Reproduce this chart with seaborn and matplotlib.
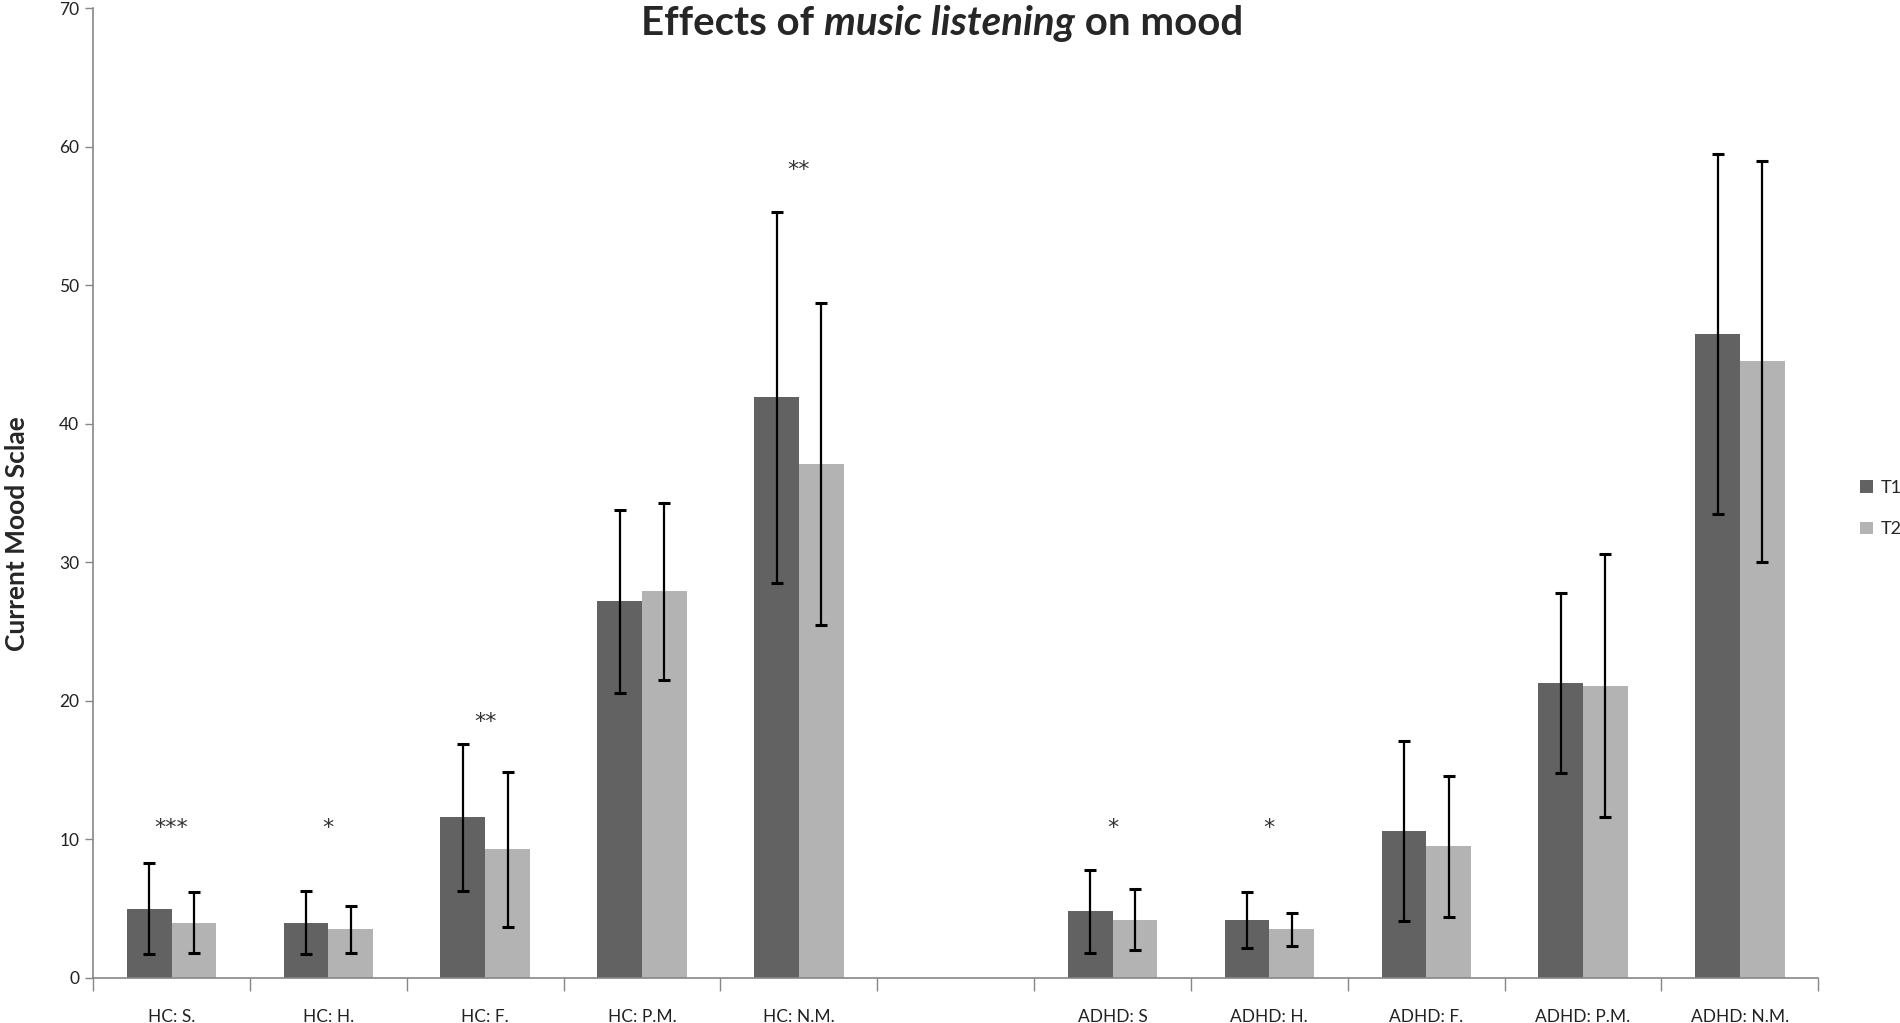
import numpy as np
import pandas as pd
import matplotlib
matplotlib.use("Agg")
import matplotlib.pyplot as plt
import seaborn as sns

# values
categories = ["HC: S.", "HC: H.", "HC: F.", "HC: P.M.", "HC: N.M.", " ",
              "ADHD: S", "ADHD: H.", "ADHD: F.", "ADHD: P.M.", "ADHD: N.M."]
groups = ["HC: S.", "HC: H.", "HC: F.", "HC: P.M.", "HC: N.M.",
          "ADHD: S", "ADHD: H.", "ADHD: F.", "ADHD: P.M.", "ADHD: N.M."]
t1_mean = [5.0, 4.0, 11.6, 27.2, 41.9, 4.8, 4.2, 10.6, 21.3, 46.5]
t2_mean = [4.0, 3.5, 9.3, 27.9, 37.1, 4.2, 3.5, 9.5, 21.1, 44.5]
t1_sd = [3.3, 2.3, 5.3, 6.6, 13.4, 3.0, 2.0, 6.5, 6.5, 13.0]
t2_sd = [2.2, 1.7, 5.6, 6.4, 11.6, 2.2, 1.2, 5.1, 9.5, 14.5]
stars = {"HC: S.": ("***", 10.85), "HC: H.": ("*", 10.85), "HC: F.": ("**", 18.5),
         "HC: N.M.": ("**", 58.3), "ADHD: S": ("*", 10.85), "ADHD: H.": ("*", 10.85)}

df = pd.DataFrame({
    "group": groups * 2,
    "time": ["T1"] * len(groups) + ["T2"] * len(groups),
    "mood": t1_mean + t2_mean,
})
sds = {"T1": t1_sd, "T2": t2_sd}

sns.set_style("white")
plt.rcParams["font.family"] = ["Lato", "DejaVu Sans"]

fig = plt.figure(figsize=(19, 10.23), dpi=100)
ax = fig.add_axes([0.049, 0.044, 0.908, 0.948])

sns.barplot(data=df, x="group", y="mood", hue="time", order=categories,
            palette={"T1": "#626262", "T2": "#b3b3b3"}, width=0.57,
            errorbar=None, saturation=1, linewidth=0, ax=ax)

for cont, lvl in zip(ax.containers, ["T1", "T2"]):
    xs = [b.get_x() + b.get_width() / 2 for b in cont]
    ys = [b.get_height() for b in cont]
    ax.errorbar(xs, ys, yerr=sds[lvl], fmt="none", ecolor="black",
                elinewidth=1.6, capsize=4.3, capthick=2.2)

for g, (s, y) in stars.items():
    ax.text(categories.index(g), y, s, ha="center", va="center",
            fontsize=16, color="#333333", family="DejaVu Sans")

ax.set_ylim(0, 70)
ax.set_xlim(-0.5, len(categories) - 0.5)
ax.set_yticks(range(0, 71, 10))
ax.set_xticks(range(len(categories)))
ax.set_xticklabels(categories)
ax.set_xticks(np.arange(-0.5, len(categories), 1), minor=True)
ax.tick_params(axis="x", which="major", length=0, pad=22, labelsize=12.5,
               labelcolor="#222222")
ax.tick_params(axis="x", which="minor", length=9, width=1, color="#868686",
               bottom=True)
ax.tick_params(axis="y", length=6, width=1, color="#868686", left=True,
               labelsize=12.5, labelcolor="#222222", pad=4)

sns.despine(ax=ax)
for sp in ["left", "bottom"]:
    ax.spines[sp].set_color("#868686")
    ax.spines[sp].set_linewidth(1.2)

ax.set_xlabel("")
ax.set_ylabel("Current Mood Sclae", fontsize=19, fontweight="bold")
ax.yaxis.set_label_coords(-0.037, 0.458)

leg = ax.legend(loc="center left", bbox_to_anchor=(1.015, 0.484), frameon=False,
                fontsize=13, handlelength=0.7, handleheight=0.7,
                handletextpad=0.4, labelspacing=1.4)

# title with italic middle part
pieces = [("Effects of ", "normal"), ("music listening", "italic"), (" on mood", "normal")]
renderer = fig.canvas.get_renderer()
texts = []
for s, st in pieces:
    t = fig.text(0, 0.977, s, fontsize=29, fontweight="bold", style=st,
                 va="center", ha="left")
    texts.append(t)
widths = [t.get_window_extent(renderer).width / fig.bbox.width for t in texts]
x = 0.496 - sum(widths) / 2
for t, w in zip(texts, widths):
    t.set_x(x)
    x += w

fig.savefig("out.png", dpi=100)
